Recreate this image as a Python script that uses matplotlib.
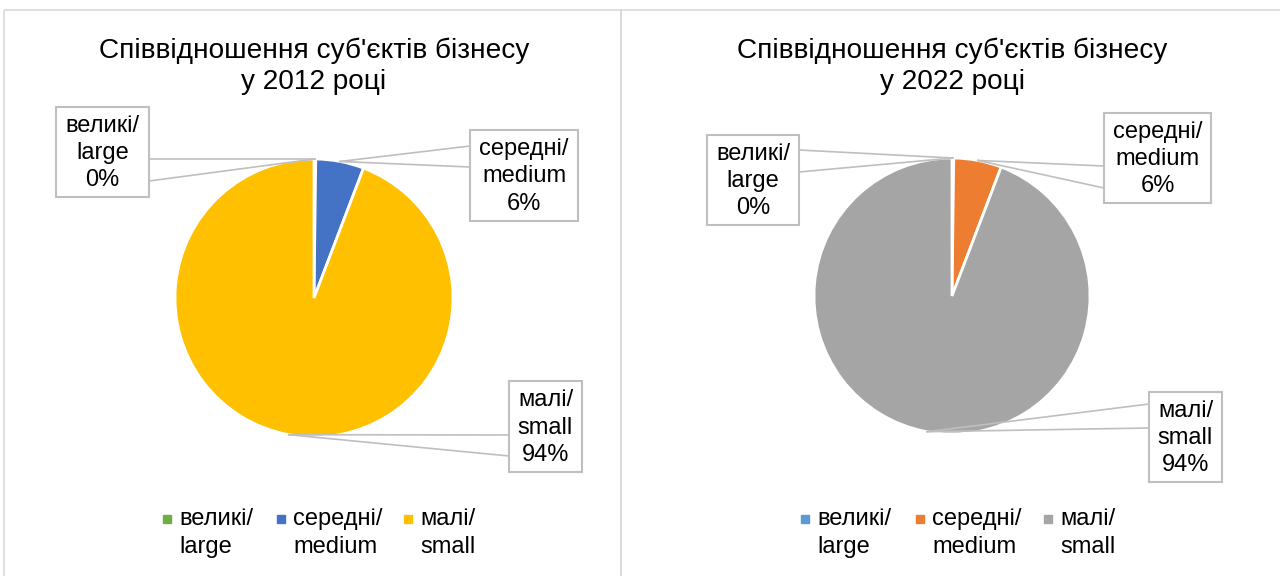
import numpy as np
import matplotlib
matplotlib.use("Agg")
import matplotlib.pyplot as plt
from matplotlib.patches import Rectangle

plt.rcParams['font.family'] = ['Liberation Sans', 'DejaVu Sans']

# Дані
categories = ['великі/\nlarge', 'середні/\nmedium', 'малі/\nsmall']
share_2012 = [0.2, 5.6, 94.2]
share_2022 = [0.2, 5.6, 94.2]
colors_2012 = ['#70AD47', '#4472C4', '#FFC000']
colors_2022 = ['#5B9BD5', '#ED7D31', '#A5A5A5']
titles = ['Співвідношення суб\'єктів бізнесу\nу 2012 році',
          'Співвідношення суб\'єктів бізнесу\nу 2022 році']

W, H = 1280, 576
fig = plt.figure(figsize=(W / 100, H / 100), dpi=100)

# накладна вісь у пікселях (y вниз)
ov = fig.add_axes([0, 0, 1, 1], zorder=5)
ov.set_xlim(0, W)
ov.set_ylim(H, 0)
ov.axis('off')

# рамки панелей
for x0, x1 in [(4, 621), (621, 1282)]:
    ov.add_patch(Rectangle((x0, 10), x1 - x0, 580, fill=False,
                           edgecolor='#D9D9D9', lw=1.2))

LINE = '#BFBFBF'

# розташування: центр пирога, радіус, заголовок, підписи, легенда
panels = [
    dict(values=share_2012, colors=colors_2012, title=titles[0],
         cx=314, cy=298, r=139,
         boxes=[(56, 107, 93, 90, 'right', (52, 74)),
                (470, 130, 108, 91, 'left', (16, 37)),
                (509, 381, 73, 91, 'left', (54, 75))],
         legend_x=[167, 281, 408]),
    dict(values=share_2022, colors=colors_2022, title=titles[1],
         cx=952, cy=296, r=138,
         boxes=[(707, 135, 92, 90, 'right', (15, 37)),
                (1104, 113, 107, 90, 'left', (53, 75)),
                (1149, 392, 73, 90, 'left', (12, 36))],
         legend_x=[805, 920, 1048]),
]

for p in panels:
    cx, cy, r = p['cx'], p['cy'], p['r']
    ax = fig.add_axes([(cx - r) / W, (H - cy - r) / H, 2 * r / W, 2 * r / H])
    wedges, _ = ax.pie(p['values'], colors=p['colors'], startangle=90,
                       counterclock=False,
                       wedgeprops=dict(edgecolor='white', linewidth=2))
    ax.set_xlim(-1, 1)
    ax.set_ylim(-1, 1)
    ax.set_aspect('equal')

    ov.text(cx, 66, p['title'], ha='center', va='center', fontsize=20.2,
            linespacing=1.25, color='#000000')

    total = sum(p['values'])
    for w, v, lab, (bx, by, bw, bh, side, offs) in zip(
            wedges, p['values'], categories, p['boxes']):
        ov.add_patch(Rectangle((bx, by), bw, bh, fill=False,
                               edgecolor=LINE, lw=1.5))
        ov.text(bx + bw / 2, by + bh / 2 + 1, f"{lab}\n{v / total * 100:.0f}%",
                ha='center', va='center', fontsize=17, linespacing=1.3)
        mid = np.deg2rad((w.theta1 + w.theta2) / 2)
        pt = ax.transData.transform((np.cos(mid), np.sin(mid)))
        ax_pt = ov.transData.inverted().transform(pt)
        ex = bx + bw if side == 'right' else bx
        for o in offs:
            ov.plot([ex, ax_pt[0]], [by + o, ax_pt[1]], color=LINE, lw=1.2)

    for lx, lab, c in zip(p['legend_x'], categories, p['colors']):
        ov.plot(lx, 519, marker='s', ms=6, color=c, ls='none')
        ov.text(lx + 12, 533, lab, ha='left', va='center', fontsize=17,
                linespacing=1.3)

fig.savefig('out.png', dpi=100, facecolor='white')
